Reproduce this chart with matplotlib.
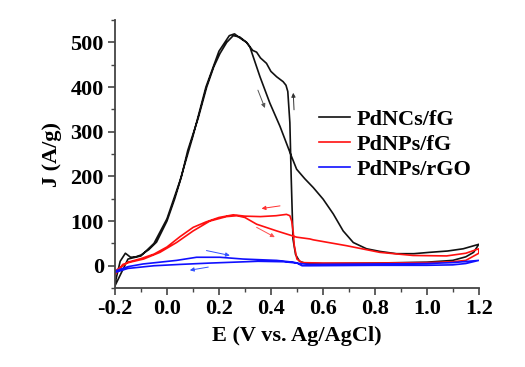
import numpy as np
import matplotlib
matplotlib.use("Agg")
import matplotlib.pyplot as plt
from matplotlib.ticker import MultipleLocator

# PdNCs/fG - forward and backward scans
black_fwd_E = [-0.2, -0.18, -0.16, -0.14, -0.12, -0.1, -0.07, -0.04, 0.0, 0.03, 0.056, 0.08, 0.12, 0.153,
               0.18, 0.204, 0.23, 0.255, 0.28, 0.306, 0.319, 0.358, 0.396, 0.435, 0.479, 0.499, 0.53,
               0.563, 0.601, 0.64, 0.678, 0.717, 0.768, 0.82, 0.883, 0.95, 1.01, 1.08, 1.14, 1.2]
black_fwd_J = [-40, 10, 28, 19, 20, 24, 36, 53, 100, 150, 200, 258, 330, 400,
               445, 475, 500, 515, 512, 500, 490, 423, 364, 312, 245, 216, 195,
               175, 149, 116, 78, 52, 38, 32, 27, 27, 30, 33, 38, 48]
black_bwd_E = [1.2, 1.18, 1.15, 1.1, 1.0, 0.8, 0.6, 0.53, 0.51, 0.495, 0.485, 0.478, 0.473, 0.465,
               0.458, 0.447, 0.422, 0.40, 0.383, 0.36, 0.345, 0.33, 0.306, 0.28, 0.26, 0.24, 0.2,
               0.15, 0.1, 0.05, 0.0, -0.05, -0.1, -0.15, -0.2]
black_bwd_J = [48, 30, 20, 12, 8, 6, 5, 6, 10, 25, 60, 200, 320, 390,
               404, 412, 423, 435, 453, 465, 478, 482, 500, 510, 519, 515, 480,
               400, 290, 190, 105, 50, 22, 15, -45]

# PdNPs/fG
red_fwd_E = [-0.2, -0.17, -0.142, -0.09, -0.027, 0.037, 0.101, 0.165, 0.229, 0.27, 0.30, 0.345,
             0.422, 0.499, 0.55, 0.563, 0.69, 0.819, 0.947, 1.076, 1.15, 1.2]
red_fwd_J = [-20, 3, 8, 15, 30, 52, 78, 100, 110, 112, 108, 93,
             78, 64, 60, 58, 45, 30, 23, 22, 28, 38]
red_bwd_E = [1.2, 1.15, 1.1, 1.0, 0.8, 0.6, 0.52, 0.5, 0.49, 0.486, 0.48, 0.473, 0.46, 0.42,
             0.36, 0.30, 0.255, 0.2, 0.15, 0.101, 0.05, 0.0, -0.05, -0.1, -0.15, -0.2]
red_bwd_J = [28, 12, 9, 7, 6, 6, 7, 15, 45, 75, 100, 112, 115, 112,
             110, 111, 114, 108, 98, 86, 65, 42, 26, 16, 8, -12]

# PdNPs/rGO
blue_fwd_E = [-0.2, -0.15, -0.092, 0.037, 0.114, 0.204, 0.293, 0.422, 0.486, 0.51, 0.55, 0.8, 1.0, 1.1, 1.2]
blue_fwd_J = [-12, -2, 4, 12, 19, 19, 15, 12, 8, 5, 3, 4, 5, 7, 12]
blue_bwd_E = [1.2, 1.15, 1.1, 1.0, 0.8, 0.55, 0.52, 0.5, 0.45, 0.35, 0.165, 0.05, -0.05, -0.15, -0.2]
blue_bwd_J = [12, 5, 2, 1, 1, 0, 0, 6, 9, 10, 6, 3, 0, -6, -15]

labels = ["PdNCs/fG", "PdNPs/fG", "PdNPs/rGO"]
colors = ["#111111", "#ff1010", "#1010ff"]

plt.rcParams['font.family'] = ['Liberation Serif', 'DejaVu Serif']
plt.rcParams['font.weight'] = 'bold'

fig = plt.figure(figsize=(5.25, 3.67), dpi=100)
ax = fig.add_axes([0.219, 0.215, 0.693, 0.7305])

series = [(black_fwd_E, black_fwd_J, black_bwd_E, black_bwd_J),
          (red_fwd_E, red_fwd_J, red_bwd_E, red_bwd_J),
          (blue_fwd_E, blue_fwd_J, blue_bwd_E, blue_bwd_J)]
for (fe, fj, be, bj), lab, c in zip(series, labels, colors):
    ax.plot(fe + be, fj + bj, color=c, lw=1.2, label=lab)

# scan direction arrows
def arrow(x0, y0, x1, y1, c):
    ax.annotate("", xy=(x1, y1), xytext=(x0, y0),
                arrowprops=dict(arrowstyle="-|>", color=c, lw=0.7,
                                mutation_scale=6, shrinkA=0, shrinkB=0))

arrow(0.35, 393, 0.377, 353, "#555555")
arrow(0.489, 349, 0.486, 387, "#333333")
arrow(0.435, 134, 0.364, 128, "#ff3030")
arrow(0.345, 86, 0.415, 64, "#ff5050")
arrow(0.152, 34, 0.242, 23, "#3050ff")
arrow(0.159, -3, 0.088, -10, "#3050ff")

ax.set_xlim(-0.2, 1.2)
ax.set_ylim(-50, 550)
ax.xaxis.set_minor_locator(MultipleLocator(0.1))
ax.yaxis.set_minor_locator(MultipleLocator(50))
ax.set_xticks(np.arange(-0.2, 1.21, 0.2))
ax.set_xticklabels(["-0.2", "0.0", "0.2", "0.4", "0.6", "0.8", "1.0", "1.2"])
ax.set_yticks([0, 100, 200, 300, 400, 500])

for s in ["top", "right"]:
    ax.spines[s].set_visible(False)
for s in ["left", "bottom"]:
    ax.spines[s].set_color("#444444")
    ax.spines[s].set_linewidth(1.3)
ax.tick_params(which="major", length=5, width=1.2, color="#444444", labelsize=16, pad=3)
ax.tick_params(which="minor", length=3, width=1.0, color="#444444")

ax.set_xlabel("E (V vs. Ag/AgCl)", fontsize=16, fontweight="bold", labelpad=5)
ax.set_ylabel("J (A/g)", fontsize=16, fontweight="bold", labelpad=6)

ax.legend(loc="upper left", bbox_to_anchor=(0.535, 0.70), frameon=False, fontsize=16,
          handlelength=1.4, handletextpad=0.3, labelspacing=0.2, borderaxespad=0)

fig.savefig("out.png", dpi=100)
